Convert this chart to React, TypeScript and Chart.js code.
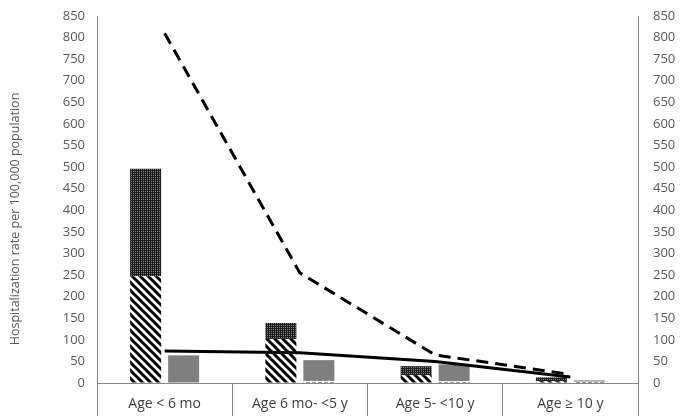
import React, { useEffect, useRef } from "react";
import { Chart, registerables } from "chart.js";

Chart.register(...registerables);

const categories = ["Age < 6 mo", "Age 6 mo- <5 y", "Age 5- <10 y", "Age \u2265 10 y"];
const hatchedValues = [247, 102, 18, 4];
const dottedValues = [249, 37, 21, 9];
const dashBottomValues = [0, 5, 4, 3];
const greyValues = [64, 48, 39, 3];
const solidLineValues = [74, 70, 50, 14];
const dashedLineValues = [810, 255, 65, 20];
const yMax = 850;
const yStep = 50;
const yTitle = "Hospitalization rate per 100,000 population";

function makePattern(kind: string): CanvasPattern | string {
  const c = document.createElement("canvas");
  const ctx = c.getContext("2d");
  if (!ctx) return "#444";
  if (kind === "hatch") {
    c.width = 8;
    c.height = 8;
    ctx.fillStyle = "#ffffff";
    ctx.fillRect(0, 0, 8, 8);
    ctx.strokeStyle = "#000000";
    ctx.lineWidth = 3;
    ctx.beginPath();
    ctx.moveTo(-2, -2);
    ctx.lineTo(10, 10);
    ctx.moveTo(-2, 6);
    ctx.lineTo(2, 10);
    ctx.moveTo(6, -2);
    ctx.lineTo(10, 2);
    ctx.stroke();
  } else if (kind === "dots") {
    c.width = 2;
    c.height = 2;
    ctx.fillStyle = "#1e1e1e";
    ctx.fillRect(0, 0, 2, 2);
    ctx.fillStyle = "#808080";
    ctx.fillRect(1, 1, 1, 1);
  } else {
    c.width = 6;
    c.height = 3;
    ctx.fillStyle = "#ffffff";
    ctx.fillRect(0, 0, 6, 3);
    ctx.fillStyle = "#333333";
    ctx.fillRect(0, 1, 4, 2);
  }
  const p = ctx.createPattern(c, "repeat");
  return p || "#444";
}

export default function App() {
  const ref = useRef<HTMLCanvasElement | null>(null);
  useEffect(() => {
    if (!ref.current) return;
    Chart.defaults.font.family = '"Open Sans", sans-serif';
    const hatch = makePattern("hatch");
    const dots = makePattern("dots");
    const dashb = makePattern("dashb");

    const titlePlugin = {
      id: "ytitle",
      afterDraw(chart: any) {
        const ctx = chart.ctx;
        ctx.save();
        ctx.translate(15, 219);
        ctx.rotate(-Math.PI / 2);
        ctx.textAlign = "center";
        ctx.textBaseline = "middle";
        ctx.font = '12.5px "Open Sans", sans-serif';
        ctx.fillStyle = "#595959";
        ctx.fillText(yTitle, 0, 0);
        ctx.restore();
      },
    };

    const barCommon = {
      categoryPercentage: 0.562,
      barPercentage: 0.816,
      borderWidth: 0,
      order: 2,
      yAxisID: "y",
    };

    const chart = new Chart(ref.current, {
      type: "bar",
      data: {
        labels: categories,
        datasets: [
          { type: "line", label: "Solid", data: solidLineValues, borderColor: "#000", borderWidth: 3, pointRadius: 0, fill: false, yAxisID: "y2", order: 0, tension: 0 } as any,
          { type: "line", label: "Dashed", data: dashedLineValues, borderColor: "#000", borderWidth: 3, borderDash: [12, 7], pointRadius: 0, fill: false, yAxisID: "y2", order: 0, tension: 0 } as any,
          { ...barCommon, label: "Hatched", data: hatchedValues, backgroundColor: hatch, stack: "a" } as any,
          { ...barCommon, label: "Dotted", data: dottedValues, backgroundColor: dots, stack: "a" } as any,
          { ...barCommon, label: "DashBottom", data: dashBottomValues, backgroundColor: dashb, stack: "b" } as any,
          { ...barCommon, label: "Grey", data: greyValues, backgroundColor: "#7f7f7f", stack: "b" } as any,
        ],
      },
      options: {
        animation: false,
        responsive: false,
        layout: { padding: { top: 16, left: 0, right: 0, bottom: 0 } },
        plugins: { legend: { display: false }, tooltip: { enabled: false } },
        scales: {
          x: {
            stacked: true,
            offset: true,
            grid: { display: true, drawOnChartArea: false, drawTicks: true, tickLength: 33, color: "#868686", offset: true },
            border: { display: true, color: "#868686", width: 1 },
            ticks: { color: "#404040", font: { size: 14 }, padding: -20, maxRotation: 0 },
            afterFit: (s: any) => { s.height = 33; },
          },
          y: {
            stacked: true,
            min: 0,
            max: yMax,
            position: "left",
            grid: { drawOnChartArea: false, drawTicks: false },
            border: { display: true, color: "#868686", width: 1 },
            ticks: { stepSize: yStep, color: "#595959", font: { size: 13 }, padding: 12 },
            afterFit: (s: any) => { s.width = 97; s.paddingTop = 0; s.paddingBottom = 0; },
          },
          y2: {
            stacked: false,
            min: 0,
            max: yMax,
            position: "right",
            grid: { drawOnChartArea: false, drawTicks: false },
            border: { display: true, color: "#868686", width: 1 },
            ticks: { stepSize: yStep, color: "#595959", font: { size: 13 }, padding: 15 },
            afterFit: (s: any) => { s.width = 42; s.paddingTop = 0; s.paddingBottom = 0; },
          },
        },
      } as any,
      plugins: [titlePlugin],
    });
    return () => chart.destroy();
  }, []);
  return (
    <div style={{ position: "absolute", left: 0, top: 0, width: 680, height: 416, background: "#fff" }}>
      <canvas ref={ref} width={680} height={416} />
    </div>
  );
}
